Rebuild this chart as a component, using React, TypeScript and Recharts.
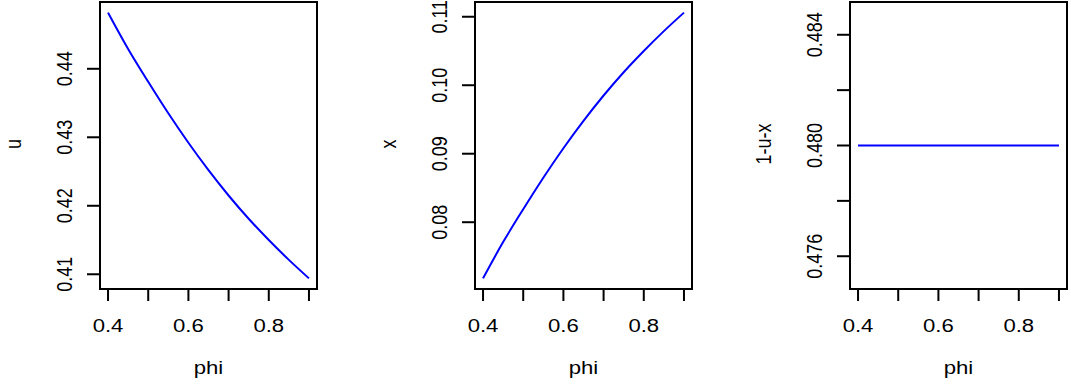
import React from 'react';
import { LineChart, Line, XAxis, YAxis, ReferenceArea } from 'recharts';

const phiValues = [0.4, 0.45, 0.5, 0.55, 0.6, 0.65, 0.7, 0.75, 0.8, 0.85, 0.9];
const uValues = [0.4482, 0.4429, 0.4381, 0.4335, 0.4292, 0.4252, 0.4215, 0.4181, 0.415, 0.4121, 0.4094];
const xValues = [0.0718, 0.0771, 0.0819, 0.0865, 0.0908, 0.0948, 0.0985, 0.1019, 0.105, 0.1079, 0.1106];
const restValues = [0.48, 0.48, 0.48, 0.48, 0.48, 0.48, 0.48, 0.48, 0.48, 0.48, 0.48];

const phiTicks = [0.4, 0.5, 0.6, 0.7, 0.8, 0.9];
const phiTickLabels = ['0.4', '', '0.6', '', '0.8', ''];
const uTicks = [0.41, 0.42, 0.43, 0.44];
const uTickLabels = ['0.41', '0.42', '0.43', '0.44'];
const xTicks = [0.08, 0.09, 0.1, 0.11];
const xTickLabels = ['0.08', '0.09', '0.10', '0.11'];
const restTicks = [0.476, 0.478, 0.48, 0.482, 0.484];
const restTickLabels = ['0.476', '', '0.480', '', '0.484'];

const FONT = '"Liberation Sans", Arial, Helvetica, sans-serif';
const FS = 18;
const SX = 1.23;

function XTick(props: any) {
  const { x, y, index } = props;
  const label = phiTickLabels[index] ?? '';
  if (!label) return <g />;
  return (
    <g transform={`translate(${x},${y + 29}) scale(${SX},1)`}>
      <text x={0} y={0} textAnchor="middle" fontFamily={FONT} fontSize={FS} fill="#000">{label}</text>
    </g>
  );
}

function makeYTick(labels: string[]) {
  return (props: any) => {
    const { x, y, index } = props;
    const label = labels[index] ?? '';
    if (!label) return <g />;
    return (
      <g transform={`translate(${x - 15},${y}) scale(${SX},1) rotate(-90)`}>
        <text x={0} y={0} textAnchor="middle" fontFamily={FONT} fontSize={FS} fill="#000">{label}</text>
      </g>
    );
  };
}

function xTitle(props: any) {
  const vb = props.viewBox || {};
  const cx = vb.x + vb.width / 2;
  return (
    <g transform={`translate(${cx},${vb.y + 85}) scale(${SX},1)`}>
      <text x={0} y={0} textAnchor="middle" fontFamily={FONT} fontSize={FS} fill="#000">phi</text>
    </g>
  );
}

function makeYTitle(title: string) {
  return (props: any) => {
    const vb = props.viewBox || {};
    const bx = vb.x + vb.width - 79;
    const cy = vb.y + vb.height / 2 - 1.5;
    return (
      <g transform={`translate(${bx},${cy}) scale(${SX},1) rotate(-90)`}>
        <text x={0} y={0} textAnchor="middle" fontFamily={FONT} fontSize={FS} fill="#000">{title}</text>
      </g>
    );
  };
}

function Panel(props: {
  left: number;
  width: number;
  right: number;
  values: number[];
  yDomain: [number, number];
  yTicks: number[];
  yLabels: string[];
  yTitle: string;
}) {
  const { left, width, right, values, yDomain, yTicks, yLabels, yTitle } = props;
  const data = phiValues.map((p, i) => ({ phi: p, v: values[i] }));
  return (
    <div style={{ position: 'absolute', left, top: 0 }}>
      <LineChart width={width} height={388} data={data} margin={{ top: 2, right, bottom: 0, left: 0 }}>
        <XAxis
          dataKey="phi"
          type="number"
          domain={[0.38, 0.92]}
          ticks={phiTicks}
          allowDataOverflow
          interval={0}
          axisLine={false}
          tickLine={{ stroke: '#000', strokeWidth: 2 }}
          tickSize={12}
          tickMargin={2}
          height={99}
          tick={XTick}
          label={{ content: xTitle }}
        />
        <YAxis
          type="number"
          domain={yDomain}
          ticks={yTicks}
          allowDataOverflow
          interval={0}
          axisLine={false}
          tickLine={{ stroke: '#000', strokeWidth: 2 }}
          tickSize={13}
          tickMargin={0}
          width={100}
          tick={makeYTick(yLabels)}
          label={{ content: makeYTitle(yTitle) }}
        />
        <ReferenceArea
          x1={0.38}
          x2={0.92}
          y1={yDomain[0]}
          y2={yDomain[1]}
          fill="none"
          fillOpacity={0}
          stroke="#000"
          strokeWidth={2}
          ifOverflow="visible"
        />
        <Line
          dataKey="v"
          type="monotone"
          stroke="#0000ff"
          strokeWidth={2}
          dot={false}
          activeDot={false}
          isAnimationActive={false}
        />
      </LineChart>
    </div>
  );
}

export default function App() {
  return (
    <div style={{ position: 'absolute', left: 0, top: 0, width: 1071, height: 388, background: '#fff' }}>
      <Panel left={0} width={320} right={3} values={uValues} yDomain={[0.407848, 0.449752]} yTicks={uTicks} yLabels={uTickLabels} yTitle="u" />
      <Panel left={375} width={320} right={3} values={xValues} yDomain={[0.070248, 0.112152]} yTicks={xTicks} yLabels={xTickLabels} yTitle="x" />
      <Panel left={750} width={321} right={4} values={restValues} yDomain={[0.474816, 0.485184]} yTicks={restTicks} yLabels={restTickLabels} yTitle="1-u-x" />
    </div>
  );
}
